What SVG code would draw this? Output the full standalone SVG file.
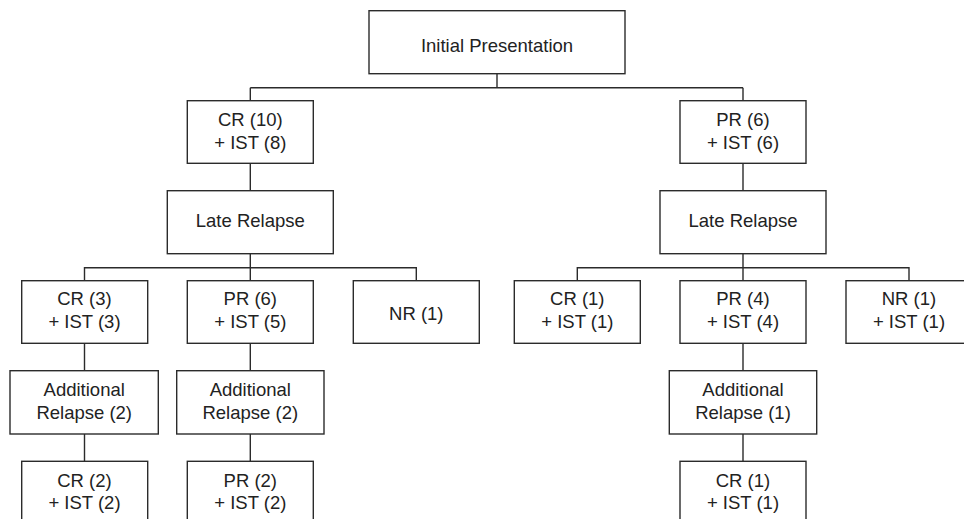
<svg xmlns="http://www.w3.org/2000/svg" width="964" height="519" viewBox="0 0 964 519">
<style>
.box{fill:#fff;stroke:#2b2b2b;stroke-width:1.4}
.t{font-family:"Liberation Sans",Arial,Helvetica,sans-serif;font-size:18.5px;fill:#222;text-anchor:middle}
.c{fill:none;stroke:#2b2b2b;stroke-width:1.4}
</style>
<rect width="964" height="519" fill="#fff"/>
<g id="connectors">
<path class="c" d="M497 73.7V87.7M250.3 87.7H743M250.3 87.7V100.7M743 87.7V100.7"/>
<path class="c" d="M250.3 163.3V190.7M743 163.3V190.7"/>
<path class="c" d="M250.3 253.7V280.7M84.5 280.7V267.7H416.3V280.7"/>
<path class="c" d="M743 253.7V280.7M577.3 280.7V267.7H909V280.7"/>
<path class="c" d="M84.5 343.3V370.7M250.3 343.3V370.7M743 343.3V370.7"/>
<path class="c" d="M84.5 434V461.3M250.3 434V461.3M743 434V461.3"/>
</g>
<g id="n-initial"><rect class="box" x="369" y="10.7" width="256" height="63"/><text class="t" x="497" y="52">Initial Presentation</text></g>
<g id="n-cr10"><rect class="box" x="187.3" y="100.7" width="126" height="62.6"/><text class="t" x="250.3" y="126">CR (10)</text><text class="t" x="250.3" y="148.7">+ IST (8)</text></g>
<g id="n-pr6"><rect class="box" x="680" y="100.7" width="126" height="62.6"/><text class="t" x="743" y="126">PR (6)</text><text class="t" x="743" y="148.7">+ IST (6)</text></g>
<g id="n-late-l"><rect class="box" x="167.3" y="190.7" width="166" height="63"/><text class="t" x="250.3" y="227.3">Late Relapse</text></g>
<g id="n-late-r"><rect class="box" x="660" y="190.7" width="166" height="63"/><text class="t" x="743" y="227.3">Late Relapse</text></g>
<g id="n-cr3"><rect class="box" x="21.7" y="280.7" width="126" height="62.6"/><text class="t" x="84.5" y="305.3">CR (3)</text><text class="t" x="84.5" y="328">+ IST (3)</text></g>
<g id="n-pr6b"><rect class="box" x="187.3" y="280.7" width="126" height="62.6"/><text class="t" x="250.3" y="305.3">PR (6)</text><text class="t" x="250.3" y="328">+ IST (5)</text></g>
<g id="n-nr1"><rect class="box" x="353.3" y="280.7" width="126" height="62.6"/><text class="t" x="416.3" y="320">NR (1)</text></g>
<g id="n-cr1"><rect class="box" x="514.3" y="280.7" width="126" height="62.6"/><text class="t" x="577.3" y="305.3">CR (1)</text><text class="t" x="577.3" y="328">+ IST (1)</text></g>
<g id="n-pr4"><rect class="box" x="680" y="280.7" width="126" height="62.6"/><text class="t" x="743" y="305.3">PR (4)</text><text class="t" x="743" y="328">+ IST (4)</text></g>
<g id="n-nr1b"><rect class="box" x="846" y="280.7" width="126" height="62.6"/><text class="t" x="909" y="305.3">NR (1)</text><text class="t" x="909" y="328">+ IST (1)</text></g>
<g id="n-add1"><rect class="box" x="10" y="370.7" width="148.3" height="63.3"/><text class="t" x="84.2" y="396">Additional</text><text class="t" x="84.2" y="419.3">Relapse (2)</text></g>
<g id="n-add2"><rect class="box" x="176.7" y="370.7" width="147.3" height="63.3"/><text class="t" x="250.3" y="396">Additional</text><text class="t" x="250.3" y="419.3">Relapse (2)</text></g>
<g id="n-add3"><rect class="box" x="669.3" y="370.7" width="147.4" height="63.3"/><text class="t" x="743" y="396">Additional</text><text class="t" x="743" y="419.3">Relapse (1)</text></g>
<g id="n-cr2"><rect class="box" x="21.7" y="461.3" width="126" height="70"/><text class="t" x="84.5" y="486.7">CR (2)</text><text class="t" x="84.5" y="509">+ IST (2)</text></g>
<g id="n-pr2"><rect class="box" x="187.3" y="461.3" width="126" height="70"/><text class="t" x="250.3" y="486.7">PR (2)</text><text class="t" x="250.3" y="509">+ IST (2)</text></g>
<g id="n-cr1b"><rect class="box" x="680" y="461.3" width="126" height="70"/><text class="t" x="743" y="486.7">CR (1)</text><text class="t" x="743" y="509">+ IST (1)</text></g>
</svg>
